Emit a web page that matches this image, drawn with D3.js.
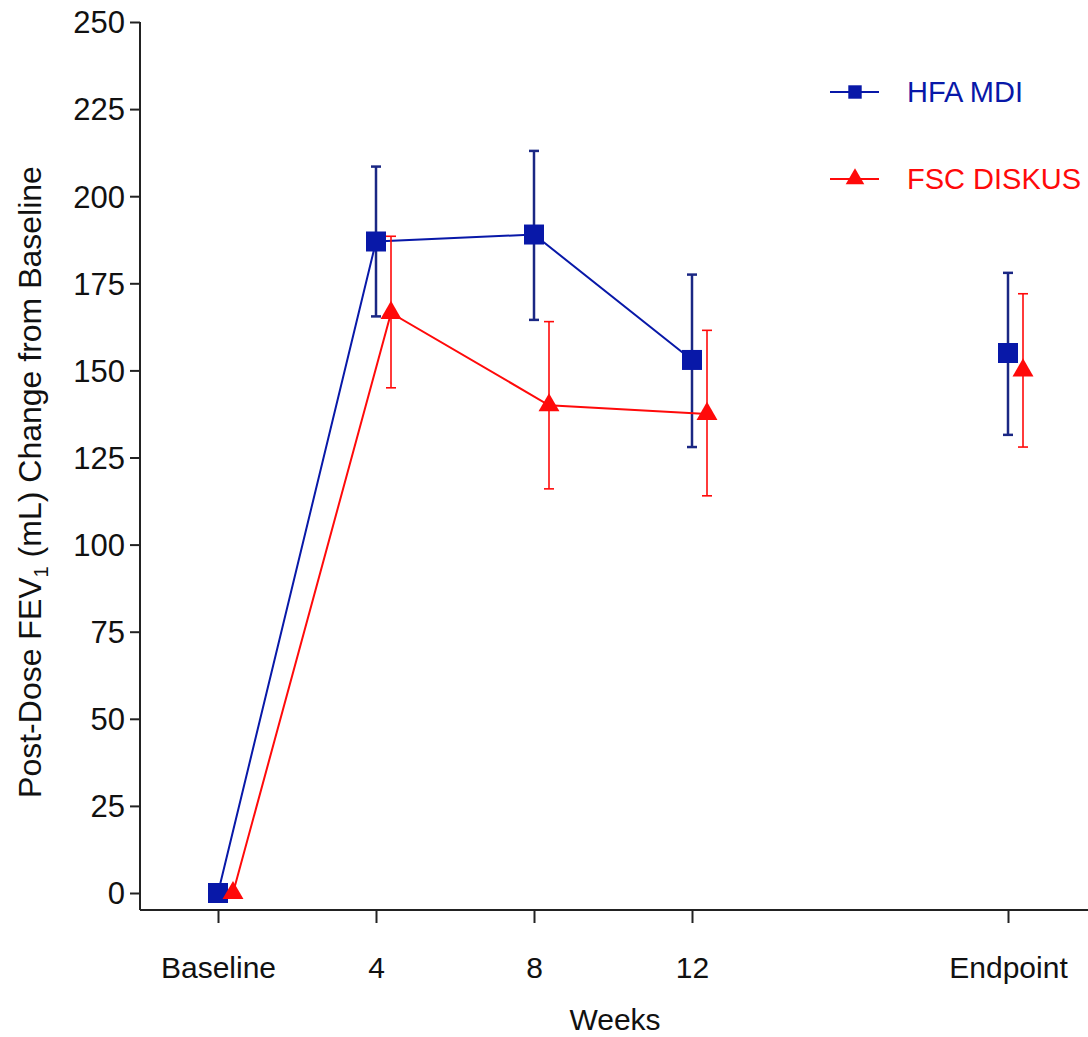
<!DOCTYPE html>
<html>
<head>
<meta charset="utf-8">
<script src="https://cdn.jsdelivr.net/npm/d3@7"></script>
<style>
  body { margin: 0; background: #fff; }
  text { font-family: "Liberation Sans", Arial, sans-serif; }
</style>
</head>
<body>
<div id="chart"></div>
<script>
// data
const timepoints = ["Baseline", "4", "8", "12", "Endpoint"];
const weekPos = [0, 4, 8, 12, 20];          // where each label sits on the week axis
const yTicks = [0, 25, 50, 75, 100, 125, 150, 175, 200, 225, 250];

const hfaMean  = [0, 187, 189, 153, 155];
const hfaLow   = [null, 165.5, 164.5, 128, 131.5];
const hfaHigh  = [null, 208.5, 213, 177.5, 178];

const fscMean  = [0, 166.5, 140, 137.5, 150];
const fscLow   = [null, 145, 116, 114, 128];
const fscHigh  = [null, 188.5, 164, 161.5, 172];

const joined = 4; // baseline..week 12 are connected, endpoint stands alone

const W = 1088, H = 1037;
const BLUE = "#0818a8", BLUE_ERR = "#1a2784", RED = "#ff0a0a", AXIS = "#222";

const svg = d3.select("#chart").append("svg")
    .attr("width", W)
    .attr("height", H);

let x = d3.scaleLinear().domain([0, 20]).range([218, 1008]);
let y = d3.scaleLinear().domain([0, 250]).range([893, 22]);

const axisX0 = 140, axisY0 = 910;

// y axis
let yAxis = svg.append("g")
    .attr("transform", `translate(${axisX0},0)`)
    .call(d3.axisLeft(y).tickValues(yTicks).tickSize(10).tickPadding(5).tickSizeOuter(0));
yAxis.select(".domain").remove();
yAxis.append("line")
    .attr("x1", 0).attr("x2", 0)
    .attr("y1", y(250)).attr("y2", axisY0)
    .attr("stroke", AXIS).attr("stroke-width", 2);
yAxis.selectAll(".tick line").attr("stroke", AXIS).attr("stroke-width", 2);
yAxis.selectAll(".tick text")
    .attr("fill", "#111")
    .style("font-size", "31px")
    .attr("dy", "0.35em");

// x axis
let xAxis = svg.append("g")
    .attr("transform", `translate(0,${axisY0})`)
    .call(d3.axisBottom(x).tickValues(weekPos).tickFormat((d, i) => timepoints[i])
        .tickSize(13).tickPadding(34).tickSizeOuter(0));
xAxis.select(".domain").remove();
xAxis.append("line")
    .attr("x1", axisX0).attr("x2", W)
    .attr("y1", 0).attr("y2", 0)
    .attr("stroke", AXIS).attr("stroke-width", 2);
xAxis.selectAll(".tick line").attr("stroke", AXIS).attr("stroke-width", 2);
xAxis.selectAll(".tick text")
    .attr("fill", "#111")
    .style("font-size", "30px");

// axis titles
svg.append("text")
    .attr("x", 615).attr("y", 1030)
    .attr("text-anchor", "middle")
    .style("font-size", "30px")
    .attr("fill", "#111")
    .text("Weeks");

let yTitle = svg.append("text")
    .attr("transform", "translate(41,482) rotate(-90)")
    .attr("text-anchor", "middle")
    .style("font-size", "32px")
    .attr("fill", "#111");
yTitle.append("tspan").text("Post-Dose FEV");
yTitle.append("tspan").attr("dy", 7).style("font-size", "20px").text("1");
yTitle.append("tspan").attr("dy", -7).text(" (mL) Change from Baseline");

function drawSeries(mean, low, high, opts) {
    let g = svg.append("g").attr("transform", `translate(${opts.dx},0)`);

    let pts = weekPos.map((w, i) => ({ w, v: mean[i], lo: low[i], hi: high[i] }));

    // error bars
    let eb = g.append("g")
        .selectAll("g")
        .data(pts.filter(p => p.lo != null))
        .enter().append("g")
        .attr("stroke", opts.errColor)
        .attr("stroke-width", opts.errWidth);
    eb.append("line")
        .attr("x1", d => x(d.w)).attr("x2", d => x(d.w))
        .attr("y1", d => y(d.lo)).attr("y2", d => y(d.hi));
    eb.append("line")
        .attr("x1", d => x(d.w) - 5).attr("x2", d => x(d.w) + 5)
        .attr("y1", d => y(d.lo)).attr("y2", d => y(d.lo));
    eb.append("line")
        .attr("x1", d => x(d.w) - 5).attr("x2", d => x(d.w) + 5)
        .attr("y1", d => y(d.hi)).attr("y2", d => y(d.hi));

    // connecting line
    let line = d3.line().x(d => x(d.w)).y(d => y(d.v));
    g.append("path")
        .datum(pts.slice(0, joined))
        .attr("d", line)
        .attr("fill", "none")
        .attr("stroke", opts.color)
        .attr("stroke-width", 2);

    // markers
    g.append("g")
        .selectAll("path")
        .data(pts)
        .enter().append("path")
        .attr("transform", d => `translate(${x(d.w)},${y(d.v)})`)
        .attr("d", d3.symbol(opts.symbol, opts.size)())
        .attr("fill", opts.color);
}

drawSeries(hfaMean, hfaLow, hfaHigh, {
    dx: 0, color: BLUE, errColor: BLUE_ERR, errWidth: 2.5, symbol: d3.symbolSquare, size: 400
});
drawSeries(fscMean, fscLow, fscHigh, {
    dx: 15, color: RED, errColor: RED, errWidth: 1.6, symbol: d3.symbolTriangle, size: 190
});

// legend
const legendItems = [
    { name: "HFA MDI", color: BLUE, symbol: d3.symbolSquare, size: 180, y: 92 },
    { name: "FSC DISKUS", color: RED, symbol: d3.symbolTriangle, size: 150, y: 179 }
];
let legend = svg.append("g")
    .selectAll("g")
    .data(legendItems)
    .enter().append("g")
    .attr("transform", d => `translate(0,${d.y})`);
legend.append("line")
    .attr("x1", 830).attr("x2", 879)
    .attr("stroke", d => d.color).attr("stroke-width", 2);
legend.append("path")
    .attr("transform", "translate(855,0)")
    .attr("d", d => d3.symbol(d.symbol, d.size)())
    .attr("fill", d => d.color);
legend.append("text")
    .attr("x", 907).attr("dy", "0.36em")
    .style("font-size", "29px")
    .attr("fill", d => d.color)
    .text(d => d.name);
</script>
</body>
</html>
